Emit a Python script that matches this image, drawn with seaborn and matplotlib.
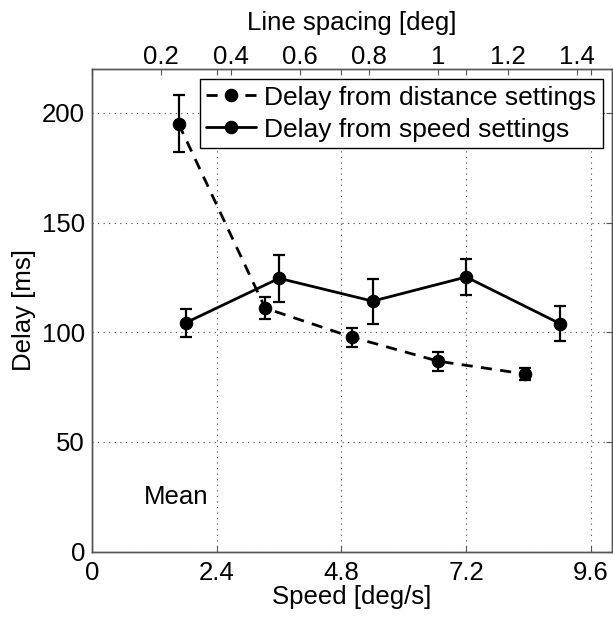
import matplotlib
matplotlib.use("Agg")
import matplotlib.pyplot as plt
import seaborn as sns
import pandas as pd

# Data
dist_spacing = [0.25, 0.50, 0.75, 1.00, 1.25]          # line spacing [deg]
dist_delay = [195.0, 111.0, 97.8, 86.8, 81.0]           # delay [ms]
dist_err = [13.0, 5.0, 4.3, 4.3, 2.8]

speed_vals = [1.8, 3.6, 5.4, 7.2, 9.0]                  # speed [deg/s]
speed_delay = [104.3, 124.6, 114.2, 125.2, 104.0]
speed_err = [6.3, 10.8, 10.2, 8.0, 7.8]

x_ticks = [0, 2.4, 4.8, 7.2, 9.6]
x_ticklabels = ["0", "2.4", "4.8", "7.2", "9.6"]
top_ticks = [0.2, 0.4, 0.6, 0.8, 1.0, 1.2, 1.4]
top_ticklabels = ["0.2", "0.4", "0.6", "0.8", "1", "1.2", "1.4"]
y_ticks = [0, 50, 100, 150, 200]

sns.set_style("white")
plt.rcParams['font.family'] = ['Liberation Sans', 'DejaVu Sans']
plt.rcParams['text.color'] = 'black'
plt.rcParams['axes.labelcolor'] = 'black'
plt.rcParams['xtick.color'] = 'black'
plt.rcParams['ytick.color'] = 'black'
FS = 18.5
SPINE = '#555555'

fig = plt.figure(figsize=(6.13, 6.17), dpi=100)
ax = fig.add_axes([92/613, (617-551.7)/617, (611.7-92)/613, (551.7-69)/617])
ax2 = ax.twiny()

df_speed = pd.DataFrame({"x": speed_vals, "y": speed_delay})
df_dist = pd.DataFrame({"x": dist_spacing, "y": dist_delay})

ax.errorbar(speed_vals, speed_delay, yerr=speed_err, fmt='none', ecolor='black',
            elinewidth=1.6, capsize=4, capthick=1.6, zorder=3)
sns.lineplot(data=df_speed, x="x", y="y", ax=ax, color='black', linewidth=2,
             marker='o', markersize=9, markeredgecolor='black', zorder=4)

ax2.errorbar(dist_spacing, dist_delay, yerr=dist_err, fmt='none', ecolor='black',
             elinewidth=1.6, capsize=4, capthick=1.6, zorder=3)
sns.lineplot(data=df_dist, x="x", y="y", ax=ax2, color='black', linewidth=2,
             linestyle=(0, (4, 3)), marker='o', markersize=9,
             markeredgecolor='black', zorder=4)

ax.set_xlim(0, 10)
ax.set_ylim(0, 220)
ax2.set_xlim(0, 1.5)
ax2.set_ylim(0, 220)

ax.set_xticks(x_ticks)
ax.set_xticklabels(x_ticklabels, fontsize=FS)
ax.set_yticks(y_ticks)
ax.set_yticklabels([str(v) for v in y_ticks], fontsize=FS)
ax2.set_xticks(top_ticks)
ax2.set_xticklabels(top_ticklabels, fontsize=FS)

ax.tick_params(axis='x', direction='in', length=4, width=0.8, color=SPINE,
               labelcolor='black', pad=7, top=True, labeltop=False)
ax.tick_params(axis='y', direction='in', length=4, width=0.8, color=SPINE,
               labelcolor='black', pad=5, right=True, labelright=False)
ax2.tick_params(axis='x', direction='in', length=4, width=0.8, color=SPINE,
                labelcolor='black', pad=0)

ax.grid(True, linestyle=(0, (1, 4)), color='#444444', linewidth=0.8)
ax2.grid(False)

for a in (ax, ax2):
    for s in a.spines.values():
        s.set_color(SPINE)
        s.set_linewidth(1.0)

ax.set_xlabel("Speed [deg/s]", fontsize=FS, labelpad=0, color='black')
ax.set_ylabel("Delay [ms]", fontsize=FS, labelpad=4, color='black')
ax2.set_xlabel("Line spacing [deg]", fontsize=FS, labelpad=11, color='black')

ax.text(1.0, 25, "Mean", fontsize=FS, va='center', ha='left', color='black')

h_dist = ax2.get_lines()[-1]
h_speed = ax.get_lines()[-1]
leg = ax2.legend([h_dist, h_speed],
                 ["Delay from distance settings", "Delay from speed settings"],
                 loc='upper right', fontsize=19, frameon=True, fancybox=False,
                 edgecolor='black', framealpha=1, borderpad=0.25,
                 borderaxespad=0, handlelength=1.9, handletextpad=0.3,
                 labelspacing=0.3, bbox_to_anchor=(0.983, 0.979))
leg.get_frame().set_linewidth(1.0)
for t in leg.get_texts():
    t.set_color('black')

fig.savefig("out.png", dpi=100)
